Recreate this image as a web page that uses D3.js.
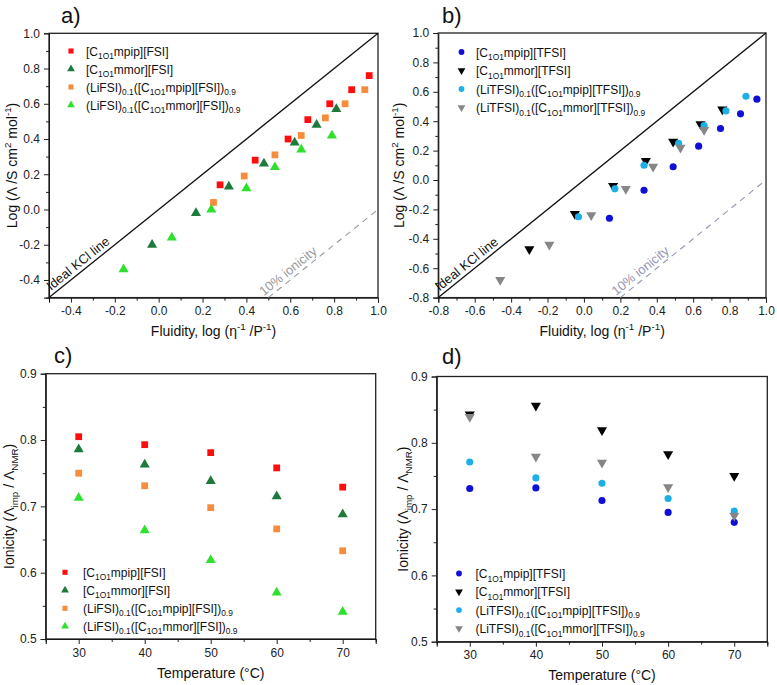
<!DOCTYPE html>
<html><head><meta charset="utf-8">
<script src="https://cdn.jsdelivr.net/npm/d3@7"></script>
<style>body{margin:0;background:#fff}svg{font-family:"Liberation Sans",Arial,sans-serif}</style>
</head><body><svg id="c" width="777" height="685"></svg>
<script>
// ---------- DATA ----------
// Panel a (FSI): log fluidity (x) vs log molar conductivity (y)
const aMpipFSI_x = [0.28, 0.44, 0.59, 0.68, 0.78, 0.88, 0.96];
const aMpipFSI_y = [0.14, 0.28, 0.40, 0.51, 0.60, 0.68, 0.76];
const aMmorFSI_x = [-0.03, 0.17, 0.32, 0.48, 0.62, 0.72, 0.81];
const aMmorFSI_y = [-0.20, -0.02, 0.13, 0.26, 0.38, 0.48, 0.57];
const aLiMpipFSI_x = [0.25, 0.39, 0.53, 0.65, 0.76, 0.85, 0.94];
const aLiMpipFSI_y = [0.04, 0.19, 0.31, 0.42, 0.52, 0.60, 0.68];
const aLiMmorFSI_x = [-0.16, 0.06, 0.24, 0.40, 0.53, 0.65, 0.79];
const aLiMmorFSI_y = [-0.34, -0.16, 0.00, 0.12, 0.24, 0.34, 0.42];
// Panel b (TFSI)
const bMpipTFSI_x = [0.14, 0.33, 0.49, 0.63, 0.75, 0.86, 0.95];
const bMpipTFSI_y = [-0.26, -0.07, 0.09, 0.23, 0.35, 0.45, 0.55];
const bMmorTFSI_x = [-0.30, -0.05, 0.16, 0.34, 0.49, 0.64, 0.76];
const bMmorTFSI_y = [-0.47, -0.23, -0.04, 0.13, 0.26, 0.38, 0.48];
const bLiMpipTFSI_x = [-0.03, 0.17, 0.33, 0.52, 0.66, 0.78, 0.89];
const bLiMpipTFSI_y = [-0.25, -0.06, 0.10, 0.25, 0.37, 0.47, 0.57];
const bLiMmorTFSI_x = [-0.46, -0.19, 0.04, 0.23, 0.38, 0.53, 0.66];
const bLiMmorTFSI_y = [-0.68, -0.44, -0.24, -0.06, 0.09, 0.22, 0.34];
// Panels c, d: ionicity vs temperature
const temperatures = [30, 40, 50, 60, 70];
const cMpipFSI = [0.805, 0.793, 0.781, 0.758, 0.729];
const cMmorFSI = [0.786, 0.763, 0.738, 0.715, 0.688];
const cLiMpipFSI = [0.750, 0.731, 0.698, 0.666, 0.633];
const cLiMmorFSI = [0.713, 0.664, 0.619, 0.570, 0.541];
const dMpipTFSI = [0.731, 0.732, 0.713, 0.695, 0.680];
const dMmorTFSI = [0.843, 0.856, 0.819, 0.783, 0.750];
const dLiMpipTFSI = [0.771, 0.747, 0.739, 0.716, 0.697];
const dLiMmorTFSI = [0.839, 0.779, 0.770, 0.733, 0.690];
// Tick values
const aTicks = [-0.4, -0.2, 0.0, 0.2, 0.4, 0.6, 0.8, 1.0];
const aMinor = [-0.5, -0.3, -0.1, 0.1, 0.3, 0.5, 0.7, 0.9];
const bTicks = [-0.8, -0.6, -0.4, -0.2, 0.0, 0.2, 0.4, 0.6, 0.8, 1.0];
const bMinor = [-0.7, -0.5, -0.3, -0.1, 0.1, 0.3, 0.5, 0.7, 0.9];
const tTicks = [30, 40, 50, 60, 70];
const tMinor = [25, 35, 45, 55, 65, 75];
const ionTicks = [0.5, 0.6, 0.7, 0.8, 0.9];
const ionMinor = [0.55, 0.65, 0.75, 0.85];
// Labels
const lblMpipFSI = [["[C"], ["1O1", "sub"], ["mpip][FSI]"]];
const lblMmorFSI = [["[C"], ["1O1", "sub"], ["mmor][FSI]"]];
const lblLiMpipFSI = [["(LiFSI)"], ["0.1", "sub"], ["([C"], ["1O1", "sub"], ["mpip][FSI])"], ["0.9", "sub"]];
const lblLiMmorFSI = [["(LiFSI)"], ["0.1", "sub"], ["([C"], ["1O1", "sub"], ["mmor][FSI])"], ["0.9", "sub"]];
const lblMpipTFSI = [["[C"], ["1O1", "sub"], ["mpip][TFSI]"]];
const lblMmorTFSI = [["[C"], ["1O1", "sub"], ["mmor][TFSI]"]];
const lblLiMpipTFSI = [["(LiTFSI)"], ["0.1", "sub"], ["([C"], ["1O1", "sub"], ["mpip][TFSI])"], ["0.9", "sub"]];
const lblLiMmorTFSI = [["(LiTFSI)"], ["0.1", "sub"], ["([C"], ["1O1", "sub"], ["mmor][TFSI])"], ["0.9", "sub"]];
const titleFluidity = [["Fluidity, log (η"], ["-1", "sup"], [" /P"], ["-1", "sup"], [")"]];
const titleLogCond = [["Log (Λ /S cm"], ["2", "sup"], [" mol"], ["-1", "sup"], [")"]];
const titleIonicity = [["Ionicity ("], ["Λ"], ["imp", "sub"], [" / Λ"], ["NMR", "sub"], [")"]];
const titleTemp = [["Temperature (°C)"]];

// ---------- STYLE ----------
const COL = {red: "#ff0d0d", dkgreen: "#1c7a3a", orange: "#f68d3c", ltgreen: "#2fe02f",
             blue: "#0f0fd6", black: "#000000", cyan: "#1cb0e6", grey: "#868686"};

const svg = d3.select("#c");

function rich(t, segs, size) {
  let off = 0;
  segs.forEach(([s, k]) => {
    const target = k === "sub" ? 0.3 * size : k === "sup" ? -0.42 * size : 0;
    t.append("tspan").text(s).attr("dy", target - off).attr("font-size", k ? size * 0.7 : size);
    off = target;
  });
}

function symbolPath(shape, size) {
  const type = shape === "square" ? d3.symbolSquare : shape === "circle" ? d3.symbolCircle : d3.symbolTriangle;
  return d3.symbol().type(type).size(size)();
}

function panel(cfg) {
  const x = d3.scaleLinear().domain(cfg.xdom).range([cfg.x0, cfg.x1]);
  const y = d3.scaleLinear().domain(cfg.ydom).range([cfg.y1, cfg.y0]);
  const g = svg.append("g");
  g.append("g").attr("transform", `translate(0,${cfg.y1})`)
    .call(d3.axisBottom(x).tickValues(cfg.xMinor).tickSize(3).tickFormat(""))
    .call(s => s.select(".domain").remove());
  g.append("g").attr("transform", `translate(${cfg.x0},0)`)
    .call(d3.axisLeft(y).tickValues(cfg.yMinor).tickSize(3).tickFormat(""))
    .call(s => s.select(".domain").remove());
  const xa = g.append("g").attr("transform", `translate(0,${cfg.y1})`)
    .call(d3.axisBottom(x).tickValues(cfg.xTicks).tickSize(5).tickPadding(4).tickFormat(cfg.fmtX));
  const ya = g.append("g").attr("transform", `translate(${cfg.x0},0)`)
    .call(d3.axisLeft(y).tickValues(cfg.yTicks).tickSize(5).tickPadding(4).tickFormat(cfg.fmtY));
  [xa, ya].forEach(a => {
    a.selectAll("text").attr("font-size", 12).attr("fill", "#222").attr("font-family", null);
    a.attr("font-family", null);
    a.selectAll("line").attr("stroke", "#222").attr("stroke-width", 1);
  });
  g.selectAll(".tick line").attr("stroke", "#222");
  g.append("rect").attr("x", cfg.x0).attr("y", cfg.y0).attr("width", cfg.x1 - cfg.x0)
    .attr("height", cfg.y1 - cfg.y0).attr("fill", "none").attr("stroke", "#222").attr("stroke-width", 1.3);
  g.append("text").attr("x", cfg.lx).attr("y", cfg.ly).attr("font-size", 22).attr("fill", "#111").text(cfg.letter);
  rich(g.append("text").attr("x", (cfg.x0 + cfg.x1) / 2).attr("y", cfg.xtY).attr("text-anchor", "middle").attr("fill", "#111"), cfg.xTitle, 14);
  rich(g.append("text").attr("transform", `translate(${cfg.ytX},${(cfg.y0 + cfg.y1) / 2}) rotate(-90)`)
    .attr("text-anchor", "middle").attr("fill", "#111"), cfg.yTitle, 14);
  return {g, x, y};
}

function drawSeries(P, xs, ys, s) {
  P.g.append("g").selectAll("path").data(xs.map((v, i) => [v, ys[i]])).join("path")
    .attr("d", symbolPath(s.shape, s.size))
    .attr("transform", d => `translate(${P.x(d[0])},${P.y(d[1])})${s.down ? " rotate(180)" : ""}`)
    .attr("fill", s.color);
}

function legend(P, items, lx, ly, dy, tx) {
  items.forEach((it, i) => {
    const yy = ly + i * dy;
    P.g.append("path").attr("d", symbolPath(it.shape, 26))
      .attr("transform", `translate(${lx},${yy})${it.down ? " rotate(180)" : ""}`).attr("fill", it.color);
    rich(P.g.append("text").attr("x", tx).attr("y", yy + 4.5).attr("fill", "#111"), it.label, 12);
  });
}

function refLines(P, dom, kclStart, ionStart, ionColor) {
  const [lo, hi] = dom;
  P.g.append("line").attr("x1", P.x(lo)).attr("y1", P.y(lo)).attr("x2", P.x(hi)).attr("y2", P.y(hi))
    .attr("stroke", "#111").attr("stroke-width", 1.3);
  P.g.append("line").attr("x1", P.x(lo + 1)).attr("y1", P.y(lo)).attr("x2", P.x(hi)).attr("y2", P.y(hi - 1))
    .attr("stroke", ionColor).attr("stroke-width", 1.1).attr("stroke-dasharray", "6,5");
  const ang = Math.atan2(P.y(1) - P.y(0), P.x(1) - P.x(0)) * 180 / Math.PI;
  P.g.append("text").attr("transform", `translate(${P.x(kclStart)},${P.y(kclStart)}) rotate(${ang})`)
    .attr("dy", -4).attr("font-size", 13).attr("fill", "#111").text("Ideal KCl line");
  P.g.append("text").attr("transform", `translate(${P.x(ionStart)},${P.y(ionStart - 1)}) rotate(${ang})`)
    .attr("dy", -4).attr("font-size", 13).attr("fill", ionColor).text("10% ionicity");
}

const f1 = d => d.toFixed(1);

// ---------- PANEL a ----------
const A = panel({x0: 49, x1: 378, y0: 33.3, y1: 297.6, xdom: [-0.5, 1.0], ydom: [-0.5, 1.0],
  xTicks: aTicks, xMinor: aMinor, yTicks: aTicks, yMinor: aMinor, fmtX: f1, fmtY: f1,
  letter: "a)", lx: 61, ly: 23, xTitle: titleFluidity, yTitle: titleLogCond, xtY: 336, ytX: 17});
refLines(A, [-0.5, 1.0], -0.48, 0.49, "#9a9a9a");
const sA = [
  {shape: "square", size: 46, color: COL.red, label: lblMpipFSI},
  {shape: "triangle", size: 44, color: COL.dkgreen, label: lblMmorFSI},
  {shape: "square", size: 46, color: COL.orange, label: lblLiMpipFSI},
  {shape: "triangle", size: 44, color: COL.ltgreen, label: lblLiMmorFSI}];
drawSeries(A, aMpipFSI_x, aMpipFSI_y, sA[0]);
drawSeries(A, aMmorFSI_x, aMmorFSI_y, sA[1]);
drawSeries(A, aLiMpipFSI_x, aLiMpipFSI_y, sA[2]);
drawSeries(A, aLiMmorFSI_x, aLiMmorFSI_y, sA[3]);
legend(A, sA, 71, 51, 18, 86);

// ---------- PANEL b ----------
const B = panel({x0: 438.3, x1: 766, y0: 33, y1: 297.6, xdom: [-0.8, 1.0], ydom: [-0.8, 1.0],
  xTicks: bTicks, xMinor: bMinor, yTicks: bTicks, yMinor: bMinor, fmtX: f1, fmtY: f1,
  letter: "b)", lx: 442, ly: 23, xTitle: titleFluidity, yTitle: titleLogCond, xtY: 336, ytX: 404});
refLines(B, [-0.8, 1.0], -0.78, 0.19, "#9494b4");
const sB = [
  {shape: "circle", size: 40, color: COL.blue, label: lblMpipTFSI},
  {shape: "triangle", size: 44, down: true, color: COL.black, label: lblMmorTFSI},
  {shape: "circle", size: 40, color: COL.cyan, label: lblLiMpipTFSI},
  {shape: "triangle", size: 44, down: true, color: COL.grey, label: lblLiMmorTFSI}];
drawSeries(B, bMpipTFSI_x, bMpipTFSI_y, sB[0]);
drawSeries(B, bMmorTFSI_x, bMmorTFSI_y, sB[1]);
drawSeries(B, bLiMpipTFSI_x, bLiMpipTFSI_y, sB[2]);
drawSeries(B, bLiMmorTFSI_x, bLiMmorTFSI_y, sB[3]);
legend(B, sB, 461.5, 52, 18.5, 476);

// ---------- PANEL c ----------
const C = panel({x0: 45.7, x1: 375.7, y0: 373.7, y1: 639, xdom: [25, 75], ydom: [0.5, 0.9],
  xTicks: tTicks, xMinor: tMinor, yTicks: ionTicks, yMinor: ionMinor, fmtX: d => d, fmtY: f1,
  letter: "c)", lx: 54, ly: 363, xTitle: titleTemp, yTitle: titleIonicity, xtY: 678, ytX: 14});
[cMpipFSI, cMmorFSI, cLiMpipFSI, cLiMmorFSI].forEach((ser, i) => drawSeries(C, temperatures, ser, sA[i]));
legend(C, sA, 65, 572.3, 18, 83);

// ---------- PANEL d ----------
const D = panel({x0: 436.7, x1: 767.3, y0: 376.5, y1: 641.7, xdom: [25, 75], ydom: [0.5, 0.9],
  xTicks: tTicks, xMinor: tMinor, yTicks: ionTicks, yMinor: ionMinor, fmtX: d => d, fmtY: f1,
  letter: "d)", lx: 442, ly: 364, xTitle: titleTemp, yTitle: titleIonicity, xtY: 680, ytX: 408});
[dMpipTFSI, dMmorTFSI, dLiMpipTFSI, dLiMmorTFSI].forEach((ser, i) => drawSeries(D, temperatures, ser, sB[i]));
legend(D, sB, 459, 573.5, 18.3, 475.5);
</script></body></html>
